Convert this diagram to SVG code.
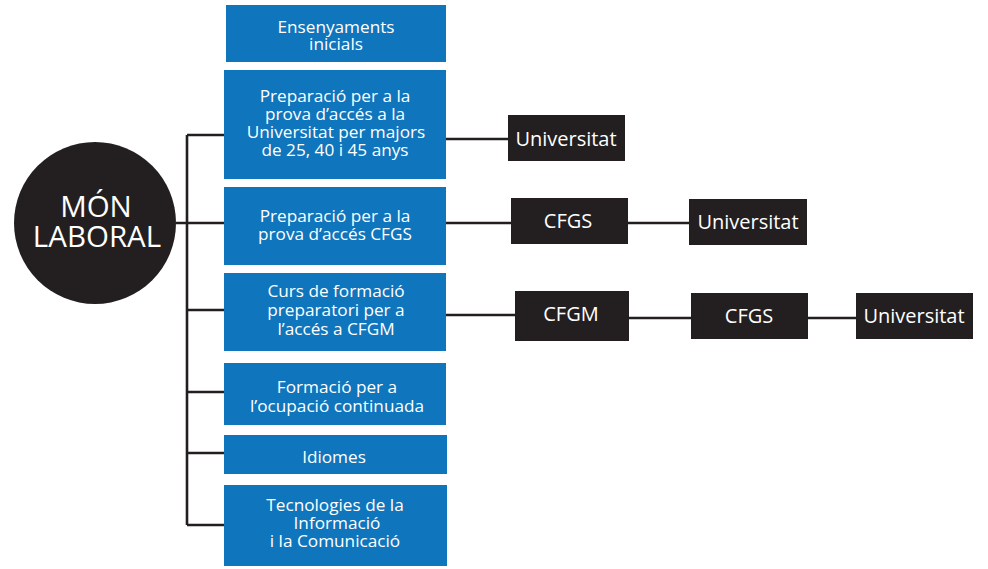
<svg xmlns="http://www.w3.org/2000/svg" width="988" height="569" viewBox="0 0 988 569">
<style>
.blue{fill:#0f75bc}
.dark{fill:#231f20}
.bt{font-family:"Open Sans","Noto Sans",sans-serif;font-size:17.2px;fill:#fff;text-anchor:middle}
.kt{font-family:"Open Sans","Noto Sans",sans-serif;font-size:20px;fill:#fff;text-anchor:middle}
.ct{font-family:"Open Sans","Noto Sans",sans-serif;font-size:29.5px;fill:#fff;text-anchor:middle}
.ln{stroke:#231f20;stroke-width:2.6;fill:none}
</style>
<rect width="988" height="569" fill="#fff"/>
<g id="connectors">
<path class="ln" d="M176 223H187M187 135V525M187 135H224M187 223H224M187 310H224M187 392H224M187 453H224M187 525H224"/>
<path class="ln" d="M446 139H508M446 223H511M628 223H689M446 315H515M629 318H691M808 318H856"/>
</g>
<g id="mon-laboral">
<circle cx="95" cy="223" r="81" class="dark"/>
<text class="ct" x="96" y="217">MÓN</text>
<text class="ct" x="97" y="247">LABORAL</text>
</g>
<g id="b1"><rect class="blue" x="226" y="5" width="220" height="57"/>
<text class="bt" x="336" y="33">Ensenyaments</text><text class="bt" x="336" y="50">inicials</text></g>
<g id="b2"><rect class="blue" x="224" y="70" width="222" height="109"/>
<text class="bt" x="335" y="102">Preparació per a la</text><text class="bt" x="335" y="120">prova d’accés a la</text><text class="bt" x="336" y="138">Universitat per majors</text><text class="bt" x="335" y="156">de 25, 40 i 45 anys</text></g>
<g id="b3"><rect class="blue" x="224" y="187" width="222" height="78"/>
<text class="bt" x="335" y="222">Preparació per a la</text><text class="bt" x="335" y="240">prova d’accés CFGS</text></g>
<g id="b4"><rect class="blue" x="224" y="273" width="222" height="78"/>
<text class="bt" x="336" y="297">Curs de formació</text><text class="bt" x="336" y="316">preparatori per a</text><text class="bt" x="336" y="335">l’accés a CFGM</text></g>
<g id="b5"><rect class="blue" x="224" y="363" width="222" height="62"/>
<text class="bt" x="337" y="393">Formació per a</text><text class="bt" x="337" y="412">l’ocupació continuada</text></g>
<g id="b6"><rect class="blue" x="224" y="435" width="223" height="39"/>
<text class="bt" x="334" y="463">Idiomes</text></g>
<g id="b7"><rect class="blue" x="224" y="485" width="223" height="81"/>
<text class="bt" x="335" y="511">Tecnologies de la</text><text class="bt" x="337" y="529">Informació</text><text class="bt" x="335" y="547">i la Comunicació</text></g>
<g id="u1"><rect class="dark" x="508" y="115" width="117" height="46"/><text class="kt" x="566" y="146">Universitat</text></g>
<g id="cfgs1"><rect class="dark" x="511" y="198" width="117" height="46"/><text class="kt" x="568" y="228">CFGS</text></g>
<g id="u2"><rect class="dark" x="689" y="199" width="118" height="46"/><text class="kt" x="748" y="229">Universitat</text></g>
<g id="cfgm"><rect class="dark" x="515" y="291" width="114" height="50"/><text class="kt" x="571" y="321">CFGM</text></g>
<g id="cfgs2"><rect class="dark" x="691" y="293" width="117" height="46"/><text class="kt" x="749" y="323">CFGS</text></g>
<g id="u3"><rect class="dark" x="856" y="293" width="117" height="46"/><text class="kt" x="914" y="323">Universitat</text></g>
</svg>
